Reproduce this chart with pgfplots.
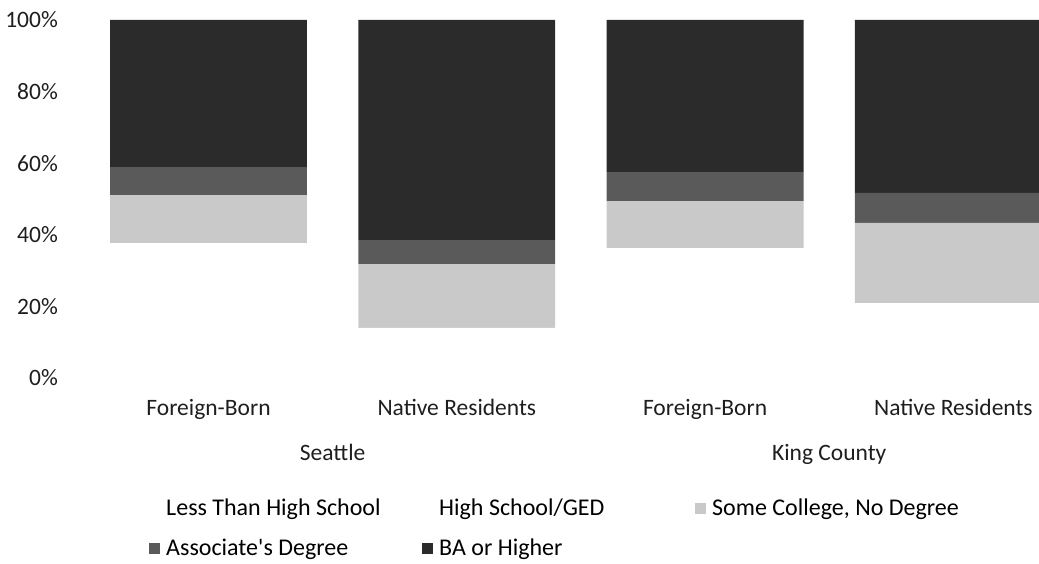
\documentclass[border=0pt]{standalone}
\usepackage{pgfplots}
\pgfplotsset{compat=1.18}
\usepackage{fontspec}
\setmainfont{Carlito}

\definecolor{lths}{HTML}{FFFFFF}
\definecolor{hsged}{HTML}{FFFFFF}
\definecolor{somecol}{HTML}{C9C9C9}
\definecolor{assoc}{HTML}{5A5A5A}
\definecolor{baplus}{HTML}{2B2B2B}
\definecolor{txt}{HTML}{1E1E1E}

% Educational attainment shares (percent); x: 0 Seattle FB, 1 Seattle native,
% 2 King County FB, 3 King County native
\begin{document}
\begin{tikzpicture}[x=1pt,y=1pt,font=\fontsize{23.5}{27}\selectfont\color{txt}]
\useasboundingbox (0,0) rectangle (1039,563);
\begin{axis}[
  at={(84.4pt,185pt)}, anchor=south west,
  scale only axis, width=954.6pt, height=358pt,
  ybar stacked, bar width=0.793,
  xmin=-0.5, xmax=3.345, ymin=0, ymax=100,
  xtick={0,1,2,3},
  xticklabels={Foreign-Born,Native Residents,Foreign-Born,Native Residents},
  ytick={0,20,40,60,80,100},
  yticklabel={\pgfmathprintnumber{\tick}\%},
  /pgf/number format/assume math mode=true,
  axis line style={draw=none},
  major tick length=0pt,
  tick label style={font=\fontsize{23.5}{27}\selectfont, text=txt},
  yticklabel style={anchor=east, inner sep=0pt, xshift=-26.4pt},
  xticklabel style={anchor=base, inner sep=0pt, yshift=-37pt},
  clip mode=individual,
  legend columns=3,
  legend cell align=left,
  legend image code/.code={\fill[#1] (0pt,-3.5pt) rectangle (11pt,7.5pt);},
  legend style={
    at={(axis description cs:0.0677,-0.334)}, anchor=north west,
    draw=none, fill=none, inner sep=0pt, row sep=15pt,
    font=\fontsize{24}{28}\selectfont,
    nodes={anchor=west, align=flush left, text width=250pt, text height=16pt, text depth=5pt, inner xsep=6pt, inner ysep=2pt},
  },
]
\addplot[fill=lths, draw=none] coordinates {(0,17) (1,4) (2,17) (3,5)};
\addlegendentry{Less Than High School}
\addplot[fill=hsged, draw=none] coordinates {(0,20.7) (1,10) (2,19.3) (3,15.9)};
\addlegendentry{High School/GED}
\addplot[fill=somecol, draw=none] coordinates {(0,13.4) (1,17.8) (2,13.1) (3,22.4)};
\addlegendentry{Some College, No Degree}
\addplot[fill=assoc, draw=none] coordinates {(0,7.8) (1,6.7) (2,8.1) (3,8.4)};
\addlegendentry{Associate\textquotesingle s Degree}
\addplot[fill=baplus, draw=none] coordinates {(0,41.1) (1,61.5) (2,42.5) (3,48.3)};
\addlegendentry{BA or Higher}
\node[anchor=base, inner sep=0pt] at (axis cs:0.5,0) [yshift=-82pt] {Seattle};
\node[anchor=base, inner sep=0pt] at (axis cs:2.5,0) [yshift=-82pt] {King County};
\end{axis}
\end{tikzpicture}
\end{document}
